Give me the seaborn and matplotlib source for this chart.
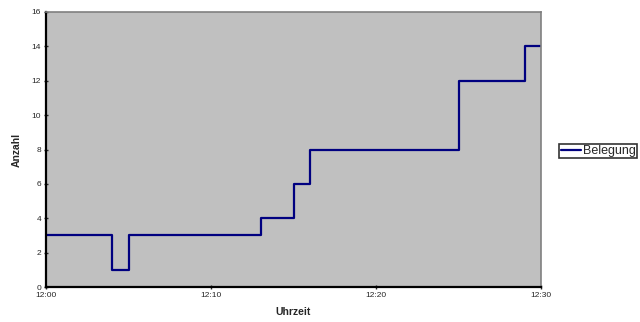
import matplotlib
matplotlib.use("Agg")
import matplotlib.pyplot as plt
import pandas as pd
import seaborn as sns

# minutes after 12:00 and occupancy from that minute on
minutes = [0, 4, 5, 13, 15, 16, 25, 29, 30]
belegung = [3, 1, 3, 4, 6, 8, 12, 14, 14]
x_ticks = [0, 10, 20, 30]
x_labels = ["12:00", "12:10", "12:20", "12:30"]
y_ticks = [0, 2, 4, 6, 8, 10, 12, 14, 16]

sns.set_style("white")
plt.rcParams["font.family"] = ["Liberation Sans", "DejaVu Sans"]

df = pd.DataFrame({"Minute": minutes, "Belegung": belegung})

fig = plt.figure(figsize=(6.4, 3.22), dpi=100)
ax = fig.add_axes([46 / 640, 35 / 322, 495 / 640, 275 / 322])
ax.set_facecolor("#c0c0c0")

sns.lineplot(data=df, x="Minute", y="Belegung", ax=ax, color="#000080",
             linewidth=1.6, drawstyle="steps-post", label="Belegung",
             legend=False)

ax.set_xlim(0, 30)
ax.set_ylim(0, 16)
ax.set_xticks(x_ticks)
ax.set_xticklabels(x_labels)
ax.set_yticks(y_ticks)
ax.tick_params(axis="both", labelsize=6, length=3, width=1, direction="inout",
               pad=2, bottom=True, left=True)
ax.set_xlabel("Uhrzeit", fontsize=7.5, fontweight="bold", labelpad=6)
ax.set_ylabel("Anzahl", fontsize=7.5, fontweight="bold", labelpad=7)

for side in ["left", "bottom"]:
    ax.spines[side].set_color("black")
    ax.spines[side].set_linewidth(1.6)
for side in ["top", "right"]:
    ax.spines[side].set_color("#808080")
    ax.spines[side].set_linewidth(1.2)

handles, labels = ax.get_legend_handles_labels()
leg = fig.legend(handles, labels, loc="center left",
                 bbox_to_anchor=(0.874, 0.531), fontsize=9, frameon=True,
                 fancybox=False, borderpad=0.1, handlelength=1.6,
                 handletextpad=0.2, borderaxespad=0)
leg.get_frame().set_edgecolor("black")
leg.get_frame().set_linewidth(1.2)

fig.savefig("out.png", dpi=100)
plt.close(fig)
